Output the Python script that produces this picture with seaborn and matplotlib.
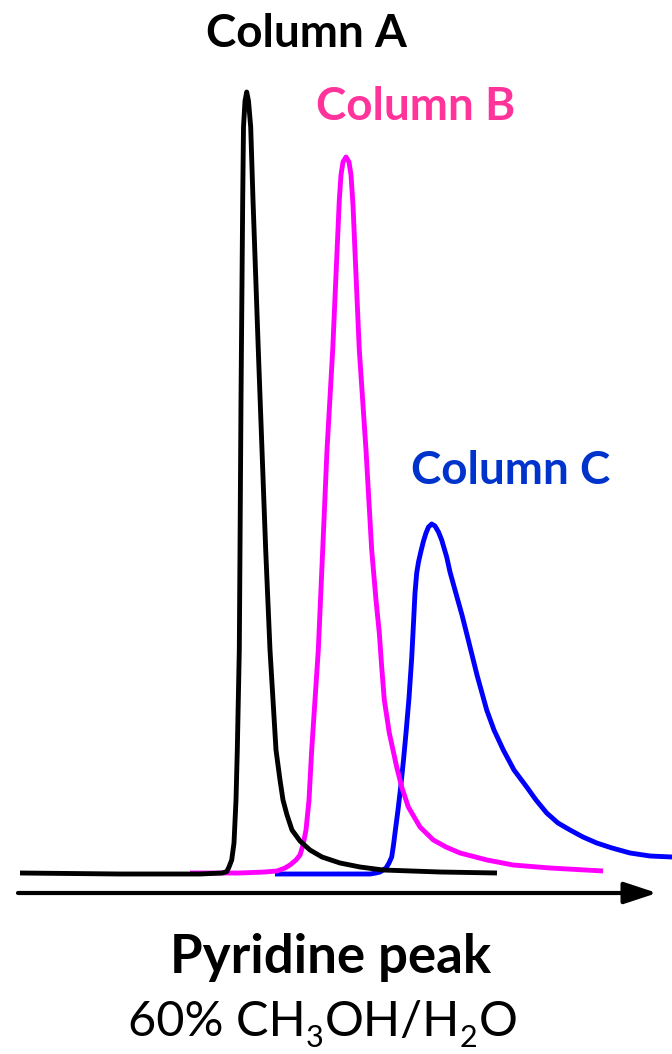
import matplotlib
matplotlib.use("Agg")
import matplotlib.pyplot as plt
import seaborn as sns
import pandas as pd

# ---- data: retention position (x) and detector signal above baseline ----
# Column A (black)
colA_x = [20, 120, 200, 222, 226.7, 229, 231.7, 234, 236, 237.3, 239.3, 240, 241, 242.7, 243.5,
          245, 246.7, 248.5, 250.7, 253, 258.3, 265.7, 270, 276, 280, 283, 287, 292, 300,
          310, 322, 340, 360, 383, 440, 497]
colA_y = [0, -1, -1, 0, 1.3, 6, 13, 30, 73, 123, 223, 323, 473, 673, 746,
          772, 781, 772, 746, 673, 523, 323, 223, 123, 93, 73, 58, 43, 32,
          23, 16, 10, 6, 3, 1, 0]

# Column B (magenta)
colB_x = [190, 240, 265, 277, 285, 290, 296, 300, 303, 306, 309, 311.7, 315, 318.3, 322.7, 327,
          332.7, 336, 339.3, 341, 343, 346, 349, 351, 353, 356, 359.3, 366, 371.7, 376,
          379.3, 381.7, 384.3, 389.3, 396.7, 401.7, 408.3, 420, 433.3, 446, 460, 487, 513,
          550, 603]
colB_y = [0, 0, 1, 2, 5, 8, 13, 18, 28, 43, 73, 123, 173, 223, 323, 423,
          523, 598, 673, 698, 711, 716, 711, 698, 668, 598, 523, 423, 323, 273,
          240, 206, 173, 140, 106, 86, 66, 46, 33, 26, 20, 13, 8,
          5, 2]

# Column C (blue)
colC_x = [275, 330, 370, 376, 380, 383, 386, 389, 391.7, 393.5, 395, 398, 400.7, 403.5, 406,
          409, 411.7, 413.5, 415, 416.7, 418.5, 421, 423.5, 426, 428.5, 431.7, 435, 438.5, 441.7,
          446.7, 450, 455, 462, 468.3, 477, 486.7, 494, 503.3, 514, 526.7, 536, 546.7, 558,
          570, 583, 596.7, 612, 630, 650, 672]
colC_y = [-1, -1, -1, 0, 1, 3, 5, 10, 16, 28, 40, 63, 86, 113, 140,
          175, 215, 250, 280, 300, 311, 322, 332, 340, 346, 349, 347, 341, 333,
          316, 301, 283, 258, 233, 198, 163, 143, 123, 103, 86, 73, 60, 50,
          43, 36, 30, 25, 20, 17, 16]

# ---- labels ----
labels = ["Column A", "Column B", "Column C"]
label_x = [306, 416, 510.5]
label_y = [826, 753, 389]
line_colors = ["#000000", "#FF00FF", "#0000FF"]
text_colors = ["#000000", "#FF3399", "#0033CC"]
xlabel = "Pyridine peak"
# condition text split into (text, is_subscript) pieces: 60% CH3OH/H2O
condition_parts = [("60% CH", False), ("3", True), ("OH/H", False), ("2", True), ("O", False)]

sns.set_theme(style="white")
plt.rcParams["font.family"] = ["Lato", "DejaVu Sans"]

fig = plt.figure(figsize=(6.72, 10.54), dpi=100)
ax = fig.add_axes([0, 0, 1, 1])
ax.set_xlim(0, 672)
ax.set_ylim(-181, 873)

frames = []
for name, xs, ys in zip(labels, [colA_x, colB_x, colC_x], [colA_y, colB_y, colC_y]):
    frames.append(pd.DataFrame({"x": xs, "signal": ys, "column": name}))
df = pd.concat(frames, ignore_index=True)

# draw blue first, then magenta, then black on top
for name, col in zip(labels[::-1], line_colors[::-1]):
    sub = df[df["column"] == name]
    sns.lineplot(data=sub, x="x", y="signal", sort=False, estimator=None,
                 color=col, linewidth=3.5, ax=ax, legend=False,
                 solid_joinstyle="round", solid_capstyle="butt")
ax.set_xlabel("")
ax.set_ylabel("")
ax.axis("off")

# time axis arrow
ax.annotate("", xy=(657, -20), xytext=(18, -20),
            arrowprops=dict(arrowstyle="-|>,head_length=1.0,head_width=0.33",
                            lw=3, color="black", mutation_scale=20,
                            shrinkA=0, shrinkB=0))

for t, x, y, c in zip(labels, label_x, label_y, text_colors):
    ax.text(x, y, t, color=c, fontsize=33, fontweight="bold",
            ha="center", va="baseline")

ax.text(331, -100, xlabel, color="black", fontsize=38, fontweight="bold",
        ha="center", va="baseline")

# condition line with real subscripts, laid out piece by piece and centred
renderer = fig.canvas.get_renderer()
main_fs, sub_fs = 35, 22
main_base, sub_base = -163, -174
cursor = 0.0
placed = []
for txt, is_sub in condition_parts:
    t = ax.text(cursor, sub_base if is_sub else main_base, txt, color="black",
                fontsize=sub_fs if is_sub else main_fs, ha="left", va="baseline")
    w = t.get_window_extent(renderer).width
    placed.append((t, cursor))
    cursor += w + (1 if is_sub else 0)
shift = 322.5 - cursor / 2
for t, x0 in placed:
    t.set_x(x0 + shift)

fig.savefig("out.png", dpi=100)
